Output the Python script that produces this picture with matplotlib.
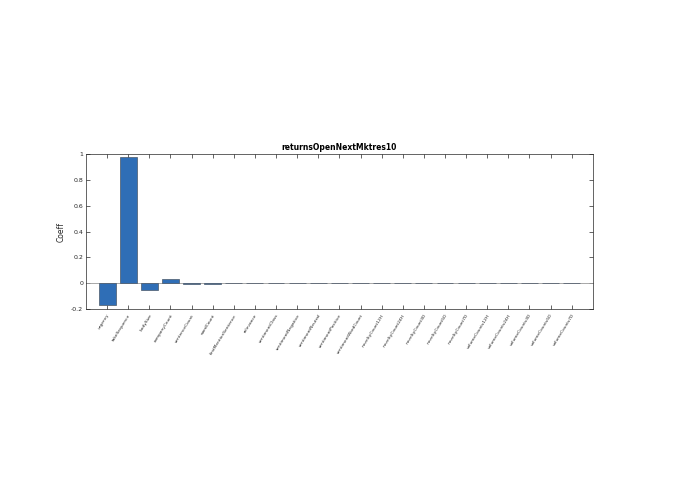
import matplotlib
matplotlib.use("Agg")
import matplotlib.pyplot as plt
import numpy as np

features = ["urgency", "takeSequence", "bodySize", "companyCount", "sentenceCount",
            "wordCount", "firstMentionSentence", "relevance", "sentimentClass",
            "sentimentNegative", "sentimentNeutral", "sentimentPositive",
            "sentimentWordCount", "noveltyCount12H", "noveltyCount24H", "noveltyCount3D",
            "noveltyCount5D", "noveltyCount7D", "volumeCounts12H", "volumeCounts24H",
            "volumeCounts3D", "volumeCounts5D", "volumeCounts7D"]
coeff = [-0.17, 0.98, -0.05, 0.03, -0.006, -0.004, -0.002, 0.002, 0.001, 0.004,
         -0.001, 0.001, 0.001, -0.002, 0.002, 0.001, 0.001, 0.001, 0.001, 0.001,
         0.001, 0.001, 0.001]

fig = plt.figure(figsize=(6.95, 4.94), dpi=100)
ax = fig.add_axes([0.1237, 0.3745, 0.853 - 0.1237, 0.688 - 0.3745])
x = np.arange(1, len(features) + 1)
ax.bar(x, coeff, width=0.8, color="#2F6EB6", edgecolor="#4a5868", linewidth=0.5, zorder=3)
ax.axhline(0, color="#9a9a9a", linewidth=0.6, zorder=2)
ax.set_xlim(0, len(features) + 1)
ax.set_ylim(-0.2, 1.0)
ax.set_yticks(np.arange(-0.2, 1.01, 0.2))
ax.set_yticklabels(["-0.2", "0", "0.2", "0.4", "0.6", "0.8", "1"])
ax.set_xticks(x)
ax.set_xticklabels(features, rotation=58, ha="right", rotation_mode="anchor", fontsize=3.2)
ax.tick_params(axis="both", direction="in", top=True, right=True, length=3,
               width=0.5, colors="#262626", labelsize=4.5, pad=2)
ax.tick_params(axis="x", pad=3, labelsize=3.2)
for s in ax.spines.values():
    s.set_linewidth(0.5)
    s.set_color("#262626")
ax.set_ylabel("Coeff", fontsize=5.5, color="#262626")
ax.set_title("returnsOpenNextMktres10", fontsize=5.5, fontweight="bold", color="black", pad=3)
fig.savefig("out.png", dpi=100)
